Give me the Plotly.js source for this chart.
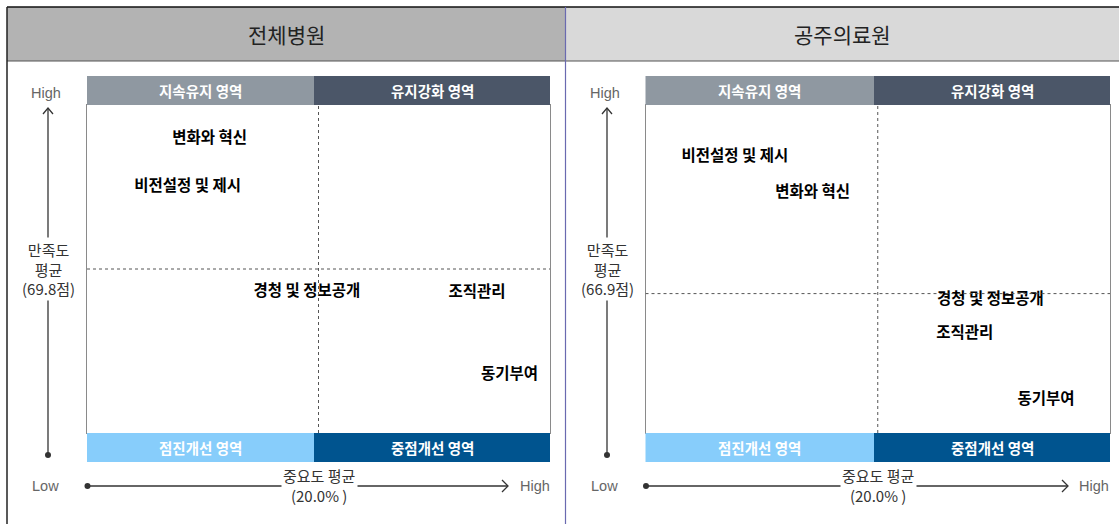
<!DOCTYPE html>
<html>
<head>
<meta charset="utf-8">
<script src="https://cdn.plot.ly/plotly-3.0.1.min.js"></script>
<style>html,body{margin:0;padding:0;background:#fff;}#chart{width:1119px;height:524px;}</style>
</head>
<body>
<div id="chart"></div>
<script>
// ---- data ----
const panelTitles = ['전체병원', '공주의료원'];
const categories = ['변화와 혁신', '비전설정 및 제시', '경청 및 정보공개', '조직관리', '동기부여'];
const allImportance = [10.6, 8.7, 19.0, 33.7, 36.5];
const allSatisfaction = [77.7, 74.8, 68.4, 68.3, 63.3];
const gongjuImportance = [14.4, 7.7, 29.7, 27.5, 34.5];
const gongjuSatisfaction = [73.0, 75.2, 66.5, 64.4, 60.4];
const importanceAvg = [20.0, 20.0];
const satisfactionAvg = [69.8, 66.9];
const quadrantTop = ['지속유지 영역', '유지강화 영역'];
const quadrantBottom = ['점진개선 영역', '중점개선 영역'];

// ---- layout helpers ----
const W = 1119, H = 524;
const fx = x => x / W;
const fy = y => 1 - y / H;
const KR = '"Noto Sans CJK KR", "Noto Sans", sans-serif';
const LAT = '"Liberation Sans", Arial, sans-serif';

const panels = [
  {x0: 87, x1: 550, split: 314, yArrowX: 48, xArrowEnd: 508, highX: 535, lowX: 45, yr: [59.8, 79.8], titleX: 286},
  {x0: 645.5, x1: 1110, split: 874, yArrowX: 607, xArrowEnd: 1068, highX: 1094, lowX: 604, yr: [58.4, 78.4], titleX: 842}
];
const boxTop = 105, boxBot = 433;

const textFont = {family: KR, size: 15.5, color: '#000', weight: 'bold'};
const traces = [
  {x: allImportance, y: allSatisfaction, text: categories, mode: 'text', type: 'scatter',
   textposition: 'middle center', textfont: textFont, xaxis: 'x', yaxis: 'y', cliponaxis: false, hoverinfo: 'skip'},
  {x: gongjuImportance, y: gongjuSatisfaction, text: categories, mode: 'text', type: 'scatter',
   textposition: 'middle center', textfont: textFont, xaxis: 'x2', yaxis: 'y2', cliponaxis: false, hoverinfo: 'skip'}
];

const shapes = [];
const annotations = [];
function ann(x, y, text, font, extra) {
  annotations.push(Object.assign({xref: 'paper', yref: 'paper', x: fx(x), y: fy(y), text: text, showarrow: false,
    xanchor: 'center', yanchor: 'middle', font: font}, extra || {}));
}

// header bands
shapes.push({type: 'rect', xref: 'paper', yref: 'paper', x0: fx(7), x1: fx(565), y0: fy(61), y1: fy(7), fillcolor: '#b3b3b3', line: {width: 0}, layer: 'below'});
shapes.push({type: 'rect', xref: 'paper', yref: 'paper', x0: fx(565), x1: fx(1119), y0: fy(61), y1: fy(7), fillcolor: '#d9d9d9', line: {width: 0}, layer: 'below'});
shapes.push({type: 'line', xref: 'paper', yref: 'paper', x0: fx(7), x1: fx(1119), y0: fy(7), y1: fy(7), line: {color: '#111', width: 1.5}});
shapes.push({type: 'line', xref: 'paper', yref: 'paper', x0: fx(7), x1: fx(1119), y0: fy(61), y1: fy(61), line: {color: '#555', width: 1.2}});
shapes.push({type: 'line', xref: 'paper', yref: 'paper', x0: fx(7), x1: fx(7), y0: fy(7), y1: 0, line: {color: '#222', width: 1.5}});
shapes.push({type: 'line', xref: 'paper', yref: 'paper', x0: fx(565.5), x1: fx(565.5), y0: fy(7), y1: 0, line: {color: '#6a6ab0', width: 1.2}});

panels.forEach((p, i) => {
  const xa = i === 0 ? 'x' : 'x2', ya = i === 0 ? 'y' : 'y2';
  // quadrant bars
  shapes.push({type: 'rect', xref: 'paper', yref: 'paper', x0: fx(p.x0), x1: fx(p.split), y0: fy(boxTop), y1: fy(76), fillcolor: '#8f98a1', line: {width: 0}});
  shapes.push({type: 'rect', xref: 'paper', yref: 'paper', x0: fx(p.split), x1: fx(p.x1), y0: fy(boxTop), y1: fy(76), fillcolor: '#4b5668', line: {width: 0}});
  shapes.push({type: 'rect', xref: 'paper', yref: 'paper', x0: fx(p.x0), x1: fx(p.split), y0: fy(462), y1: fy(boxBot), fillcolor: '#87cdfb', line: {width: 0}});
  shapes.push({type: 'rect', xref: 'paper', yref: 'paper', x0: fx(p.split), x1: fx(p.x1), y0: fy(462), y1: fy(boxBot), fillcolor: '#00548f', line: {width: 0}});
  const cl = (p.x0 + p.split) / 2, cr = (p.split + p.x1) / 2;
  const qf = {family: KR, size: 14.5, color: '#fff', weight: 'bold'};
  ann(cl, 90.5, quadrantTop[0], qf);
  ann(cr, 90.5, quadrantTop[1], qf);
  ann(cl, 447.5, quadrantBottom[0], qf);
  ann(cr, 447.5, quadrantBottom[1], qf);
  // average dividers
  shapes.push({type: 'line', xref: xa, yref: ya, x0: importanceAvg[i], x1: importanceAvg[i], y0: p.yr[0], y1: p.yr[1], line: {color: '#555', width: 1, dash: 'dot'}});
  shapes.push({type: 'line', xref: xa, yref: ya, x0: 0, x1: 40, y0: satisfactionAvg[i], y1: satisfactionAvg[i], line: {color: '#555', width: 1, dash: 'dot'}});
  // y arrow
  const ax = p.yArrowX;
  shapes.push({type: 'line', xref: 'paper', yref: 'paper', x0: fx(ax), x1: fx(ax), y0: fy(108), y1: fy(455), line: {color: '#333', width: 1.3}});
  shapes.push({type: 'path', xref: 'paper', yref: 'paper', path: `M ${fx(ax-5)} ${fy(114)} L ${fx(ax)} ${fy(108)} L ${fx(ax+5)} ${fy(114)}`, line: {color: '#333', width: 1.3}});
  shapes.push({type: 'circle', xref: 'paper', yref: 'paper', x0: fx(ax-3), x1: fx(ax+3), y0: fy(458), y1: fy(452), fillcolor: '#333', line: {width: 0}});
  ann(ax, 269, `만족도<br>평균<br>(${satisfactionAvg[i].toFixed(1)}점)`, {family: KR, size: 15, color: '#333'}, {bgcolor: '#fff'});
  ann(ax - 2, 92.5, 'High', {family: LAT, size: 14.5, color: '#666'});
  ann(p.lowX, 485.5, 'Low', {family: LAT, size: 14.5, color: '#666'});
  // x arrow
  const ay = 486, xs = p.x0 + 0.5, xe = p.xArrowEnd;
  shapes.push({type: 'line', xref: 'paper', yref: 'paper', x0: fx(xs), x1: fx(xe), y0: fy(ay), y1: fy(ay), line: {color: '#333', width: 1.3}});
  shapes.push({type: 'path', xref: 'paper', yref: 'paper', path: `M ${fx(xe-6)} ${fy(ay-6)} L ${fx(xe)} ${fy(ay)} L ${fx(xe-6)} ${fy(ay+6)}`, line: {color: '#333', width: 1.3}});
  shapes.push({type: 'circle', xref: 'paper', yref: 'paper', x0: fx(xs-3), x1: fx(xs+3), y0: fy(ay+3), y1: fy(ay-3), fillcolor: '#333', line: {width: 0}});
  ann((p.x0 + p.x1) / 2 + 0.5, 485.5, `중요도 평균<br>(${importanceAvg[i].toFixed(1)}% )`, {family: KR, size: 15, color: '#333'}, {bgcolor: '#fff'});
  ann(p.highX, 485.5, 'High', {family: LAT, size: 14.5, color: '#666'});
  // panel title
  ann(p.titleX, 34, panelTitles[i], {family: KR, size: 21, color: '#222'});
});

const axBase = {range: [0, 40], showgrid: false, zeroline: false, showticklabels: false, ticks: '', showline: true, mirror: true, linecolor: '#8a8a8a', linewidth: 1, fixedrange: true};
const layout = {
  width: W, height: H,
  margin: {l: 0, r: 0, t: 0, b: 0},
  paper_bgcolor: '#fff', plot_bgcolor: '#fff',
  showlegend: false,
  xaxis: Object.assign({}, axBase, {domain: [fx(panels[0].x0), fx(panels[0].x1)], anchor: 'y'}),
  yaxis: Object.assign({}, axBase, {range: panels[0].yr, domain: [fy(boxBot), fy(boxTop)], anchor: 'x'}),
  xaxis2: Object.assign({}, axBase, {domain: [fx(panels[1].x0), fx(panels[1].x1)], anchor: 'y2'}),
  yaxis2: Object.assign({}, axBase, {range: panels[1].yr, domain: [fy(boxBot), fy(boxTop)], anchor: 'x2'}),
  shapes: shapes,
  annotations: annotations
};
Plotly.newPlot('chart', traces, layout, {displayModeBar: false, staticPlot: true});
</script>
</body>
</html>
